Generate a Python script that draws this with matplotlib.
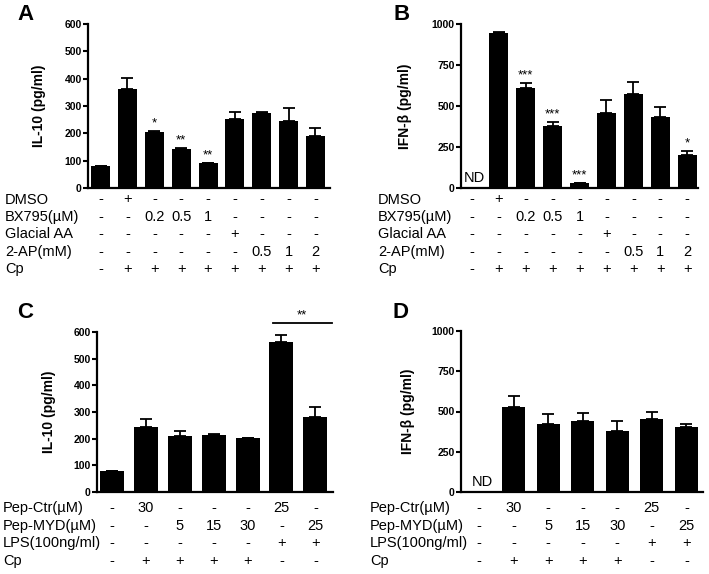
import matplotlib
matplotlib.use("Agg")
import matplotlib.pyplot as plt
import matplotlib.transforms as mtransforms
import numpy as np

plt.rcParams['font.family'] = ['Liberation Sans', 'DejaVu Sans']

# ---------------- data ----------------
A_vals = [80, 364, 206, 142, 90, 251, 273, 246, 189]
A_err = [0, 37, 2, 4, 0, 27, 6, 47, 31]
A_stars = ["", "", "*", "**", "**", "", "", "", ""]

B_vals = [np.nan, 948, 607, 376, 31, 459, 575, 432, 202]
B_err = [0, 2, 35, 25, 0, 75, 69, 64, 26]
B_stars = ["", "", "***", "***", "***", "", "", "", "*"]

C_vals = [79, 244, 209, 212, 201, 561, 282]
C_err = [0, 30, 20, 7, 2, 28, 38]

D_vals = [np.nan, 531, 421, 444, 376, 452, 401]
D_err = [0, 65, 64, 46, 62, 42, 20]

AB_rows = ["DMSO", "BX795(\u00b5M)", "Glacial AA", "2-AP(mM)", "Cp"]
AB_table = [
    ["-", "+", "-", "-", "-", "-", "-", "-", "-"],
    ["-", "-", "0.2", "0.5", "1", "-", "-", "-", "-"],
    ["-", "-", "-", "-", "-", "+", "-", "-", "-"],
    ["-", "-", "-", "-", "-", "-", "0.5", "1", "2"],
    ["-", "+", "+", "+", "+", "+", "+", "+", "+"],
]
CD_rows = ["Pep-Ctr(\u00b5M)", "Pep-MYD(\u00b5M)", "LPS(100ng/ml)", "Cp"]
CD_table = [
    ["-", "30", "-", "-", "-", "25", "-"],
    ["-", "-", "5", "15", "30", "-", "25"],
    ["-", "-", "-", "-", "-", "+", "+"],
    ["-", "+", "+", "+", "+", "-", "-"],
]

W, H = 709, 574
fig = plt.figure(figsize=(W / 100, H / 100), dpi=100)


def fx(px):
    return px / W


def fy(py):
    return 1 - py / H


def make_ax(l, t, r, b):
    return fig.add_axes([fx(l), fy(b), fx(r - l), (b - t) / H])


def style(ax, ymax, step, ylabel, xlim, labx):
    for s in ['top', 'right']:
        ax.spines[s].set_visible(False)
    for s in ['left', 'bottom']:
        ax.spines[s].set_linewidth(1.6)
    ax.set_ylim(0, ymax)
    ax.set_xlim(*xlim)
    ax.set_yticks(np.arange(0, ymax + 1, step))
    ax.tick_params(axis='y', length=3.5, width=1.5, labelsize=7.5, pad=1)
    for t in ax.get_yticklabels():
        t.set_fontweight('bold')
    ax.set_xticks([])
    ax.set_ylabel(ylabel, fontsize=10, fontweight='bold')
    ax.yaxis.set_label_coords(labx, 0.5)


def bars(ax, vals, errs, width):
    x = np.arange(len(vals))
    v = np.nan_to_num(np.array(vals, dtype=float))
    ax.bar(x, v, width=width, color='black', zorder=2)
    e = np.array(errs, dtype=float)
    ax.errorbar(x, v, yerr=[np.zeros_like(e), e], fmt='none', ecolor='black',
                elinewidth=1.3, capsize=4.5, capthick=1.3, zorder=1)
    return x, v + e


def table(ax, rows, table, row_y0, dy, label_x):
    trans = mtransforms.blended_transform_factory(ax.transData, fig.transFigure)
    for i, (lab, vals) in enumerate(zip(rows, table)):
        y = fy(row_y0 + i * dy)
        fig.text(fx(label_x), y, lab, ha='left', va='center', fontsize=10.5)
        for j, s in enumerate(vals):
            ax.text(j, y, s, transform=trans, ha='center', va='center', fontsize=10.5)


def stars(ax, tops, labels, ymax):
    for j, s in enumerate(labels):
        if s:
            ax.text(j, tops[j] + ymax * 0.01, s, ha='center', va='bottom', fontsize=9.5)


# Panel A
axA = make_ax(88, 24, 330, 188)
style(axA, 600, 100, "IL-10 (pg/ml)", (-0.47, 8.54), -0.175)
xA, tA = bars(axA, A_vals, A_err, 0.71)
stars(axA, tA, A_stars, 600)
table(axA, AB_rows, AB_table, 199.5, 17.4, 5)

# Panel B
axB = make_ax(461, 24, 698, 188)
style(axB, 1000, 250, "IFN-\u03b2 (pg/ml)", (-0.4, 8.4), -0.205)
xB, tB = bars(axB, B_vals, B_err, 0.71)
stars(axB, tB, B_stars, 1000)
axB.text(0.1, 60, "ND", ha='center', va='center', fontsize=10.5)
table(axB, AB_rows, AB_table, 199.5, 17.4, 378)

# Panel C
axC = make_ax(97, 332, 333, 492)
style(axC, 600, 100, "IL-10 (pg/ml)", (-0.44, 6.52), -0.175)
xC, tC = bars(axC, C_vals, C_err, 0.71)
axC.plot([4.75, 6.5], [635, 635], color='black', lw=1.3, clip_on=False)
axC.text(5.6, 640, "**", ha='center', va='bottom', fontsize=9.5)
table(axC, CD_rows, CD_table, 508.3, 17.6, 3)

# Panel D
axD = make_ax(461, 331, 703, 492)
style(axD, 1000, 250, "IFN-\u03b2 (pg/ml)", (-0.52, 6.48), -0.19)
xD, tD = bars(axD, D_vals, D_err, 0.67)
axD.text(0.1, 62, "ND", ha='center', va='center', fontsize=10.5)
table(axD, CD_rows, CD_table, 508.3, 17.6, 370)

# panel letters
for lab, px, py in [("A", 26, 15), ("B", 402, 15), ("C", 25, 312), ("D", 401, 312)]:
    fig.text(fx(px), fy(py), lab, ha='center', va='center', fontsize=16, fontweight='bold')

fig.savefig("out.png", dpi=100)
